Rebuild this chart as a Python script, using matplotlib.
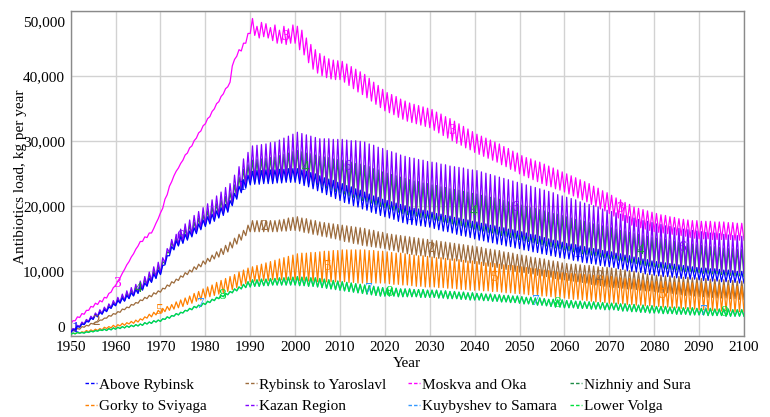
import numpy as np
import matplotlib.pyplot as plt
import matplotlib.transforms as mtransforms
from matplotlib.lines import Line2D
from matplotlib.ticker import FuncFormatter

plt.rcParams['font.family'] = ['Liberation Serif', 'DejaVu Serif']

years = np.arange(1950, 2101)

# yearly troughs / peaks of the seasonal swing, kg per year (1950..2100)
above_rybinsk_low = [
    500, 900, 1300, 1700, 2100, 2500, 2900, 3300, 3700, 4200,
    4600, 5000, 5300, 5700, 6100, 6500, 7000, 7600, 8200, 8800,
    9400, 10900, 12300, 13200, 13800, 14200, 14700, 15200, 15700, 16300,
    16800, 17200, 17600, 18100, 18500, 19000, 20000, 21000, 22000, 22700,
    23200, 23300, 23300, 23400, 23400, 23400, 23500, 23500, 23600, 23600,
    23600, 23400, 23100, 22900, 22600, 22300, 22000, 21700, 21400, 21100,
    20800, 20500, 20300, 20000, 19800, 19500, 19300, 19000, 18800, 18500,
    18300, 18100, 17900, 17600, 17400, 17200, 17100, 17000, 16900, 16800,
    16700, 16500, 16300, 16100, 16000, 15800, 15600, 15400, 15300, 15100,
    14900, 14700, 14600, 14400, 14300, 14100, 14000, 13800, 13700, 13500,
    13400, 13200, 13100, 12900, 12800, 12600, 12500, 12300, 12200, 12000,
    11900, 11800, 11600, 11500, 11300, 11200, 11100, 11000, 10800, 10700,
    10600, 10500, 10300, 10200, 10000, 9900, 9800, 9700, 9500, 9400,
    9300, 9200, 9100, 9100, 9000, 8900, 8800, 8800, 8700, 8700,
    8600, 8500, 8500, 8400, 8400, 8300, 8300, 8200, 8200, 8100,
    8100]
above_rybinsk_high = [
    900, 1400, 1800, 2200, 2700, 3200, 3600, 4000, 4400, 4900,
    5400, 5800, 6200, 6600, 7100, 7600, 8100, 8800, 9500, 10100,
    10800, 12300, 13700, 14600, 15200, 15600, 16100, 16600, 17200, 17800,
    18300, 18700, 19200, 19700, 20200, 20800, 21900, 23000, 24000, 24700,
    25300, 25400, 25400, 25500, 25500, 25500, 25600, 25600, 25700, 25700,
    25700, 25500, 25300, 25100, 24900, 24600, 24300, 24100, 23900, 23600,
    23400, 23100, 22900, 22600, 22400, 22100, 21800, 21500, 21300, 21000,
    20800, 20600, 20400, 20200, 20000, 19800, 19600, 19500, 19300, 19200,
    19000, 18800, 18700, 18500, 18400, 18200, 18100, 17900, 17800, 17600,
    17500, 17300, 17200, 17000, 16900, 16700, 16600, 16400, 16300, 16100,
    16000, 15800, 15600, 15500, 15300, 15100, 14900, 14700, 14600, 14400,
    14200, 14100, 14000, 13800, 13700, 13500, 13400, 13300, 13100, 13000,
    12900, 12700, 12600, 12400, 12300, 12100, 12000, 11800, 11700, 11500,
    11400, 11300, 11200, 11100, 11000, 10900, 10800, 10700, 10600, 10500,
    10400, 10400, 10300, 10300, 10200, 10100, 10100, 10000, 9900, 9900,
    9800]

rybinsk_yaroslavl_low = [
    600, 800, 1000, 1300, 1500, 1800, 2100, 2400, 2700, 3000,
    3300, 3600, 4000, 4300, 4700, 5000, 5400, 5700, 6000, 6400,
    6700, 7200, 7600, 8100, 8500, 9000, 9400, 9800, 10200, 10600,
    11000, 11400, 11800, 12100, 12500, 12900, 13500, 14100, 14700, 15400,
    16000, 16000, 16000, 16000, 16000, 16000, 16000, 16100, 16100, 16200,
    16200, 16100, 15900, 15800, 15600, 15500, 15300, 15200, 15000, 14900,
    14700, 14500, 14400, 14200, 14100, 13900, 13800, 13700, 13600, 13500,
    13400, 13200, 13100, 12900, 12800, 12600, 12500, 12400, 12300, 12200,
    12100, 12000, 11900, 11800, 11700, 11600, 11500, 11400, 11300, 11200,
    11100, 11000, 10800, 10700, 10600, 10500, 10300, 10200, 10100, 9900,
    9800, 9700, 9600, 9500, 9300, 9200, 9100, 9000, 8800, 8700,
    8600, 8500, 8400, 8300, 8200, 8100, 7900, 7800, 7700, 7600,
    7500, 7400, 7400, 7300, 7200, 7200, 7100, 7000, 6900, 6900,
    6800, 6700, 6600, 6600, 6500, 6400, 6300, 6200, 6200, 6100,
    6000, 6000, 5900, 5900, 5800, 5800, 5800, 5700, 5700, 5600,
    5600]
rybinsk_yaroslavl_high = [
    800, 1100, 1400, 1600, 1900, 2100, 2400, 2700, 3100, 3400,
    3700, 4100, 4400, 4800, 5100, 5500, 5900, 6200, 6600, 6900,
    7300, 7800, 8300, 8700, 9200, 9700, 10100, 10600, 11000, 11500,
    11900, 12400, 12900, 13400, 13900, 14400, 15000, 15600, 16200, 17000,
    17700, 17700, 17700, 17700, 17700, 17700, 17800, 17900, 18100, 18200,
    18300, 18100, 18000, 17800, 17700, 17500, 17400, 17300, 17200, 17100,
    17000, 16900, 16800, 16700, 16600, 16500, 16300, 16200, 16000, 15900,
    15700, 15600, 15500, 15400, 15300, 15200, 15100, 15000, 14900, 14800,
    14700, 14600, 14500, 14400, 14300, 14200, 14100, 14000, 13900, 13800,
    13700, 13600, 13400, 13300, 13200, 13100, 12900, 12800, 12700, 12500,
    12400, 12300, 12100, 12000, 11900, 11800, 11600, 11500, 11400, 11200,
    11100, 11000, 11000, 10900, 10800, 10800, 10700, 10600, 10500, 10500,
    10400, 10300, 10200, 10100, 10000, 9900, 9700, 9600, 9500, 9400,
    9300, 9300, 9200, 9200, 9100, 9100, 9000, 9000, 8900, 8900,
    8800, 8800, 8700, 8700, 8600, 8600, 8500, 8500, 8400, 8400,
    8300]

moskva_oka_low = [
    1800, 2300, 2800, 3300, 3900, 4400, 4800, 5200, 5800, 6700,
    7700, 8900, 10200, 11400, 12600, 13800, 14500, 15100, 15800, 17300,
    18900, 21000, 23000, 24600, 25800, 27000, 28100, 29200, 30400, 31500,
    32600, 33700, 34900, 36000, 37200, 38300, 41500, 43000, 43800, 45000,
    46500, 46200, 45800, 46000, 45800, 45400, 45000, 45000, 44800, 45000,
    45000, 44000, 43200, 42000, 41000, 40400, 40000, 39700, 39500, 39400,
    39400, 39000, 38500, 38000, 37500, 37100, 36600, 36100, 35600, 35100,
    34600, 34300, 34000, 33600, 33300, 33000, 32800, 32600, 32400, 32200,
    32000, 31600, 31200, 30800, 30400, 30000, 29600, 29300, 28900, 28600,
    28200, 27900, 27600, 27300, 27000, 26700, 26300, 26000, 25600, 25300,
    24900, 24600, 24300, 24000, 23700, 23400, 23100, 22900, 22600, 22400,
    22100, 21800, 21500, 21200, 20900, 20600, 20200, 19900, 19500, 19200,
    18800, 18400, 18100, 17700, 17400, 17000, 16800, 16600, 16400, 16200,
    16000, 15900, 15800, 15700, 15600, 15500, 15400, 15300, 15100, 15000,
    14900, 14900, 14900, 14800, 14800, 14800, 14800, 14800, 14700, 14700,
    14700]
moskva_oka_high = [
    2300, 2900, 3400, 3900, 4500, 5000, 5400, 5900, 6500, 7400,
    8400, 9600, 10900, 12100, 13300, 14500, 15200, 15800, 16500, 18000,
    19600, 21700, 23700, 25300, 26500, 27800, 28900, 30000, 31200, 32300,
    33400, 34500, 35700, 36800, 38000, 39000, 42500, 44000, 45000, 46500,
    48800, 47600, 48200, 48000, 47400, 47800, 47000, 47600, 47200, 47800,
    47600, 47000, 45800, 44800, 44000, 43400, 43000, 42600, 42400, 42300,
    42200, 41800, 41400, 41000, 40600, 40200, 39600, 39000, 38500, 37900,
    37400, 37100, 36800, 36400, 36100, 35800, 35600, 35400, 35200, 35000,
    34800, 34400, 34100, 33700, 33400, 33000, 32600, 32200, 31800, 31400,
    31000, 30700, 30400, 30100, 29800, 29500, 29100, 28800, 28400, 28100,
    27700, 27400, 27200, 26900, 26700, 26400, 26100, 25800, 25500, 25200,
    24900, 24600, 24300, 24000, 23700, 23400, 23000, 22700, 22300, 22000,
    21600, 21200, 20900, 20500, 20200, 19800, 19600, 19400, 19200, 19000,
    18800, 18600, 18500, 18300, 18200, 18000, 17900, 17800, 17700, 17700,
    17600, 17600, 17600, 17500, 17500, 17500, 17400, 17400, 17300, 17300,
    17200]

nizhniy_sura_low = [
    600, 1000, 1400, 1800, 2200, 2600, 3000, 3400, 3800, 4300,
    4700, 5100, 5400, 5800, 6200, 6600, 7200, 7700, 8300, 8900,
    9500, 11100, 12700, 13400, 13900, 14400, 14900, 15400, 16000, 16500,
    17000, 17400, 17900, 18300, 18800, 19200, 20200, 21300, 22300, 23000,
    23500, 23600, 23600, 23700, 23700, 23800, 23900, 24000, 24100, 24100,
    24200, 24000, 23800, 23600, 23400, 23200, 23000, 22700, 22500, 22200,
    22000, 21800, 21500, 21300, 21000, 20800, 20600, 20400, 20100, 19900,
    19700, 19500, 19300, 19000, 18800, 18600, 18500, 18400, 18200, 18100,
    18000, 17800, 17700, 17500, 17400, 17200, 17000, 16900, 16700, 16600,
    16400, 16200, 16100, 15900, 15800, 15600, 15400, 15300, 15100, 15000,
    14800, 14600, 14500, 14300, 14200, 14000, 13800, 13700, 13500, 13400,
    13200, 13100, 12900, 12800, 12600, 12500, 12400, 12300, 12100, 12000,
    11900, 11800, 11600, 11500, 11300, 11200, 11100, 10900, 10800, 10700,
    10600, 10500, 10400, 10300, 10200, 10100, 10000, 9900, 9900, 9800,
    9700, 9600, 9600, 9500, 9500, 9400, 9300, 9300, 9200, 9200,
    9100]
nizhniy_sura_high = [
    1000, 1500, 1900, 2400, 2800, 3300, 3800, 4200, 4700, 5100,
    5600, 6100, 6600, 7000, 7500, 8000, 8700, 9400, 10000, 10700,
    11400, 12900, 14400, 15100, 15700, 16400, 17000, 17500, 18100, 18600,
    19200, 19800, 20300, 20900, 21400, 22000, 23200, 24400, 25600, 26300,
    27000, 27100, 27200, 27300, 27400, 27500, 27700, 27900, 28100, 28300,
    28500, 28300, 28100, 28000, 27800, 27600, 27500, 27400, 27200, 27100,
    27000, 26800, 26700, 26500, 26400, 26200, 26000, 25700, 25500, 25200,
    25000, 24800, 24600, 24400, 24200, 24000, 23800, 23700, 23500, 23400,
    23200, 23100, 22900, 22800, 22600, 22500, 22400, 22200, 22100, 21900,
    21800, 21600, 21500, 21300, 21200, 21000, 20800, 20600, 20500, 20300,
    20100, 19900, 19700, 19600, 19400, 19200, 19000, 18800, 18700, 18500,
    18300, 18100, 17900, 17800, 17600, 17400, 17200, 17100, 16900, 16800,
    16600, 16400, 16200, 16100, 15900, 15700, 15600, 15400, 15300, 15100,
    15000, 14900, 14800, 14600, 14500, 14400, 14300, 14200, 14100, 14000,
    13900, 13800, 13700, 13700, 13600, 13500, 13400, 13400, 13300, 13300,
    13200]

gorky_sviyaga_low = [
    200, 300, 400, 500, 600, 700, 800, 900, 1100, 1200,
    1300, 1500, 1600, 1800, 1900, 2100, 2400, 2700, 2900, 3200,
    3500, 3700, 3900, 4100, 4300, 4500, 4800, 5000, 5300, 5500,
    5800, 6000, 6200, 6400, 6600, 6800, 7100, 7400, 7700, 8000,
    8300, 8400, 8400, 8500, 8500, 8600, 8600, 8600, 8600, 8600,
    8600, 8500, 8500, 8400, 8400, 8300, 8300, 8300, 8300, 8300,
    8300, 8300, 8200, 8200, 8100, 8100, 8100, 8100, 8100, 8100,
    8100, 8000, 7900, 7900, 7800, 7800, 7700, 7600, 7600, 7500,
    7500, 7500, 7400, 7400, 7300, 7300, 7200, 7100, 7100, 7000,
    7000, 7000, 6900, 6900, 6800, 6800, 6700, 6600, 6600, 6500,
    6500, 6400, 6300, 6300, 6200, 6100, 6100, 6000, 5900, 5900,
    5800, 5700, 5600, 5600, 5500, 5400, 5300, 5200, 5200, 5100,
    5000, 5000, 4900, 4900, 4800, 4800, 4700, 4700, 4600, 4600,
    4500, 4500, 4400, 4400, 4300, 4300, 4200, 4200, 4100, 4100,
    4000, 4000, 3900, 3900, 3900, 3800, 3800, 3800, 3700, 3700,
    3700]
gorky_sviyaga_high = [
    400, 500, 600, 800, 900, 1000, 1100, 1300, 1400, 1600,
    1700, 1900, 2000, 2200, 2400, 2600, 2900, 3300, 3600, 3900,
    4200, 4500, 4800, 5200, 5500, 5800, 6100, 6500, 6800, 7200,
    7500, 7800, 8200, 8500, 8800, 9100, 9400, 9800, 10100, 10400,
    10600, 10800, 11000, 11200, 11400, 11600, 11800, 12000, 12200, 12400,
    12600, 12700, 12700, 12800, 12800, 12900, 13000, 13000, 13100, 13100,
    13200, 13200, 13200, 13200, 13200, 13200, 13100, 13100, 13000, 13000,
    12900, 12800, 12700, 12700, 12600, 12500, 12400, 12300, 12300, 12200,
    12100, 12000, 12000, 11900, 11800, 11800, 11700, 11600, 11500, 11500,
    11400, 11300, 11200, 11200, 11100, 11000, 10900, 10800, 10800, 10700,
    10600, 10500, 10400, 10300, 10200, 10100, 10000, 9900, 9800, 9700,
    9600, 9600, 9500, 9500, 9400, 9400, 9300, 9300, 9200, 9200,
    9100, 9000, 8900, 8800, 8800, 8700, 8600, 8500, 8400, 8400,
    8300, 8300, 8300, 8200, 8200, 8200, 8200, 8100, 8100, 8100,
    8100, 8000, 8000, 7900, 7800, 7800, 7700, 7700, 7600, 7600,
    7500]

kazan_low = [
    600, 1000, 1400, 1800, 2200, 2600, 3000, 3400, 3800, 4300,
    4700, 5100, 5400, 5800, 6200, 6600, 7200, 7800, 8400, 9000,
    9600, 11200, 12800, 13500, 14000, 14500, 15000, 15500, 16000, 16500,
    17000, 17400, 17900, 18400, 18800, 19300, 20400, 21500, 22500, 23200,
    23800, 23800, 23900, 23900, 24000, 24000, 24100, 24100, 24200, 24200,
    24300, 24100, 24000, 23800, 23700, 23500, 23300, 23100, 22900, 22700,
    22500, 22300, 22100, 21800, 21600, 21400, 21200, 21000, 20800, 20600,
    20400, 20200, 20000, 19700, 19500, 19300, 19200, 19100, 18900, 18800,
    18700, 18600, 18400, 18300, 18100, 18000, 17800, 17700, 17500, 17400,
    17200, 17000, 16900, 16700, 16600, 16400, 16200, 16100, 15900, 15800,
    15600, 15400, 15300, 15100, 15000, 14800, 14600, 14400, 14300, 14100,
    13900, 13800, 13600, 13500, 13300, 13200, 13100, 12900, 12800, 12600,
    12500, 12400, 12300, 12100, 12000, 11900, 11800, 11600, 11500, 11300,
    11200, 11100, 11000, 10900, 10800, 10700, 10600, 10500, 10400, 10300,
    10200, 10100, 10100, 10000, 10000, 9900, 9800, 9800, 9700, 9700,
    9600]
kazan_high = [
    1100, 1600, 2100, 2500, 3000, 3500, 4000, 4400, 4900, 5400,
    5900, 6400, 6900, 7400, 7900, 8400, 9100, 9800, 10600, 11300,
    12000, 13400, 14800, 15600, 16400, 17200, 17800, 18500, 19100, 19700,
    20300, 20900, 21500, 22100, 22800, 23400, 24700, 26000, 27200, 28200,
    29200, 29300, 29400, 29500, 29700, 29800, 30100, 30400, 30700, 31000,
    31300, 31100, 30900, 30700, 30500, 30300, 30300, 30300, 30200, 30200,
    30200, 30100, 30000, 30000, 29900, 29800, 29500, 29300, 29000, 28800,
    28500, 28300, 28100, 27800, 27600, 27400, 27300, 27100, 27000, 26800,
    26700, 26600, 26400, 26300, 26100, 26000, 25900, 25800, 25600, 25500,
    25400, 25200, 25000, 24800, 24600, 24400, 24200, 24000, 23800, 23600,
    23400, 23200, 23000, 22800, 22600, 22400, 22200, 22000, 21700, 21500,
    21300, 21100, 20900, 20600, 20400, 20200, 20000, 19800, 19500, 19300,
    19100, 18900, 18700, 18500, 18300, 18100, 17900, 17700, 17600, 17400,
    17200, 17100, 16900, 16800, 16600, 16500, 16400, 16300, 16200, 16100,
    16000, 15900, 15800, 15800, 15700, 15600, 15500, 15400, 15400, 15300,
    15200]

lower_volga_low = [
    200, 300, 400, 400, 500, 600, 700, 800, 800, 900,
    1000, 1100, 1200, 1300, 1400, 1500, 1600, 1800, 1900, 2100,
    2200, 2500, 2700, 3000, 3200, 3500, 3800, 4000, 4300, 4500,
    4800, 5100, 5400, 5700, 6000, 6300, 6600, 6900, 7200, 7400,
    7500, 7600, 7600, 7700, 7700, 7800, 7800, 7800, 7800, 7800,
    7800, 7700, 7700, 7600, 7600, 7500, 7400, 7300, 7200, 7100,
    7000, 6900, 6800, 6700, 6600, 6500, 6400, 6300, 6200, 6100,
    6100, 6100, 6100, 6000, 6000, 6000, 6000, 6000, 5900, 5900,
    5900, 5900, 5800, 5800, 5700, 5700, 5700, 5600, 5600, 5500,
    5500, 5500, 5400, 5400, 5300, 5300, 5200, 5200, 5100, 5100,
    5000, 4900, 4900, 4800, 4700, 4700, 4600, 4500, 4400, 4400,
    4300, 4300, 4300, 4200, 4200, 4200, 4100, 4100, 4100, 4000,
    4000, 4000, 3900, 3800, 3800, 3700, 3700, 3600, 3600, 3500,
    3500, 3500, 3400, 3400, 3400, 3300, 3300, 3300, 3200, 3200,
    3200, 3200, 3100, 3100, 3100, 3100, 3000, 3000, 3000, 3000,
    3000]
lower_volga_high = [
    400, 500, 500, 600, 700, 800, 900, 1000, 1100, 1200,
    1300, 1400, 1500, 1600, 1700, 1800, 2000, 2100, 2300, 2400,
    2600, 2900, 3100, 3400, 3600, 3900, 4200, 4500, 4700, 5000,
    5300, 5600, 5900, 6200, 6500, 6800, 7200, 7500, 7900, 8300,
    8600, 8600, 8700, 8700, 8800, 8800, 8900, 8900, 9000, 9000,
    9100, 9000, 9000, 8900, 8900, 8800, 8700, 8600, 8500, 8400,
    8300, 8200, 8100, 8000, 7900, 7800, 7700, 7600, 7500, 7400,
    7300, 7300, 7300, 7200, 7200, 7200, 7100, 7100, 7100, 7000,
    7000, 7000, 6900, 6900, 6800, 6800, 6700, 6700, 6600, 6600,
    6500, 6500, 6400, 6400, 6300, 6300, 6200, 6200, 6100, 6100,
    6000, 5900, 5900, 5800, 5800, 5700, 5600, 5600, 5500, 5500,
    5400, 5400, 5300, 5300, 5200, 5200, 5200, 5100, 5100, 5000,
    5000, 5000, 4900, 4900, 4800, 4800, 4700, 4700, 4600, 4600,
    4500, 4500, 4500, 4400, 4400, 4400, 4300, 4300, 4300, 4200,
    4200, 4200, 4200, 4100, 4100, 4100, 4100, 4000, 4000, 4000,
    4000]

# Kuybyshev to Samara runs under Lower Volga in the chart
kuybyshev_samara_low = lower_volga_low
kuybyshev_samara_high = lower_volga_high

names = ['Above Rybinsk', 'Rybinsk to Yaroslavl', 'Moskva and Oka', 'Nizhniy and Sura',
         'Gorky to Sviyaga', 'Kazan Region', 'Kuybyshev to Samara', 'Lower Volga']
lows = [above_rybinsk_low, rybinsk_yaroslavl_low, moskva_oka_low, nizhniy_sura_low,
        gorky_sviyaga_low, kazan_low, kuybyshev_samara_low, lower_volga_low]
highs = [above_rybinsk_high, rybinsk_yaroslavl_high, moskva_oka_high, nizhniy_sura_high,
         gorky_sviyaga_high, kazan_high, kuybyshev_samara_high, lower_volga_high]
colors = ['#0000ff', '#9c6b3c', '#ff00ff', '#1e8c46',
          '#ff8000', '#8000ff', '#3399ff', '#00e03c']
# drawing order (later = on top)
zorders = [8, 3, 2, 5, 4, 7, 9, 10]

fig = plt.figure(figsize=(7.7, 4.17), dpi=100)
ax = fig.add_axes([70.7 / 770, 1 - 335.7 / 417, (744 - 70.7) / 770, (335.7 - 10.7) / 417])

handles = []
for i in range(8):
    lo = np.asarray(lows[i])
    hi = np.asarray(highs[i])
    # trough at the start of the year, peak half a year later
    t = np.column_stack([years, years + 0.5]).ravel()[:-1]
    v = np.column_stack([lo, hi]).ravel()[:-1]
    ax.plot(t, v, color=colors[i], lw=0.9, zorder=zorders[i])
    # series numbers along the lines, Vensim style
    for j in range(5):
        yr = 1951 + 4.67 * i + 37.33 * j
        if yr > 2099:
            continue
        k = int(round(yr - 1950))
        ax.text(yr, (lo[k] + hi[k]) / 2, str(i + 1), color=colors[i], fontsize=11,
                ha='center', va='center', zorder=20)
    handles.append(Line2D([], [], color=colors[i], lw=1, ls=(0, (2.5, 1.5))))

ax.set_xlim(1950, 2100)
ax.set_ylim(0, 50000)
ax.set_xticks(np.arange(1950, 2101, 10))
ax.set_yticks(np.arange(0, 50001, 10000))
ax.yaxis.set_major_formatter(FuncFormatter(lambda v, p: f'{int(v):,}'))
ax.grid(True, color='#d2d2d2', lw=1.0)
ax.set_axisbelow(True)
for s in ax.spines.values():
    s.set_color('#8a8a8a')
    s.set_linewidth(1.0)
ax.tick_params(length=0, labelsize=11, colors='black')
ax.tick_params(axis='y', pad=4)
ax.tick_params(axis='x', pad=4)

# Vensim pulls the end labels inside the frame
yt = ax.yaxis.get_major_ticks()
yt[0].label1.set_transform(yt[0].label1.get_transform() +
                           mtransforms.ScaledTranslation(0, 0.09, fig.dpi_scale_trans))
yt[-1].label1.set_transform(yt[-1].label1.get_transform() +
                            mtransforms.ScaledTranslation(0, -0.10, fig.dpi_scale_trans))

ax.set_xlabel('Year', fontsize=11, labelpad=2)
ax.set_ylabel('Antibiotics load, kg per year', fontsize=11)
ax.yaxis.label.set_va('center')
ax.yaxis.set_label_coords(-0.075, 0.49)

col_x = [85, 245, 408, 570]
for c in range(4):
    fig.legend([handles[c], handles[c + 4]], [names[c], names[c + 4]],
               loc='upper left', bbox_to_anchor=(col_x[c] / 770, 1 - 378 / 417),
               frameon=False, fontsize=11, handlelength=0.8, handletextpad=0.1,
               labelspacing=0.5, borderpad=0, borderaxespad=0)

fig.savefig('out.png', dpi=100)
